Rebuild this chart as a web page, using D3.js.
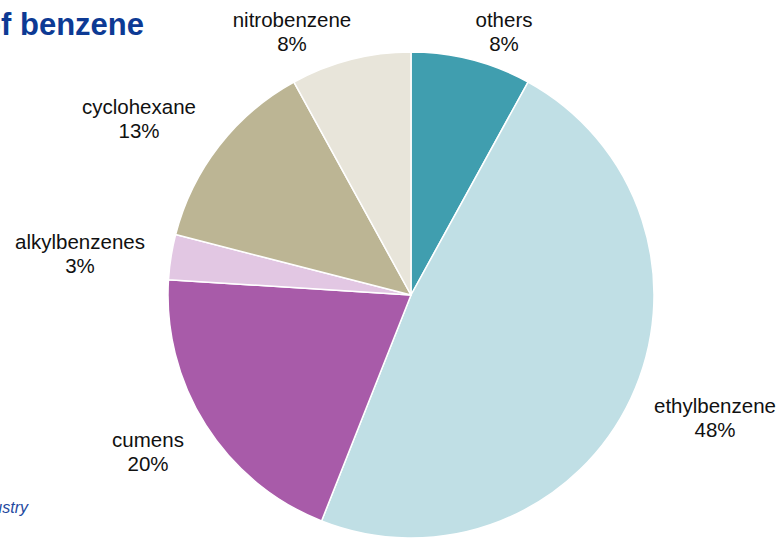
<!DOCTYPE html>
<html>
<head>
<meta charset="utf-8">
<script src="https://cdn.jsdelivr.net/npm/d3@7"></script>
<style>
  html, body { margin: 0; padding: 0; background: #fff; }
  svg { display: block; font-family: "Liberation Sans", Arial, sans-serif; }
</style>
</head>
<body>
<svg id="chart" width="779" height="538"></svg>
<script>
// Uses of benzene, share of consumption (%), clockwise from 12 o'clock
const categories = ["others", "ethylbenzene", "cumens", "alkylbenzenes", "cyclohexane", "nitrobenzene"];
const shares = [8, 48, 20, 3, 13, 8];
const colors = ["#409eaf", "#c0dfe5", "#a85ba9", "#e2c7e3", "#bcb594", "#e8e5da"];
// label anchor (centre of the first text line) for each slice
const labelX = [504, 715, 148, 80, 139, 292];
const labelY = [27, 413, 447, 249, 114, 27];

const svg = d3.select("#chart");
const cx = 411, cy = 295, r = 243;

const data = categories.map((c, i) => ({ name: c, value: shares[i], color: colors[i], lx: labelX[i], ly: labelY[i] }));

const pie = d3.pie().value(d => d.value).sort(null);
const arc = d3.arc().innerRadius(0).outerRadius(r);

const g = svg.append("g").attr("transform", `translate(${cx},${cy})`);
g.selectAll("path")
  .data(pie(data))
  .join("path")
  .attr("d", arc)
  .attr("fill", d => d.data.color)
  .attr("stroke", "#ffffff")
  .attr("stroke-width", 1.5)
  .attr("stroke-linejoin", "round");

// slice labels: name on the first line, percentage below
const labels = svg.selectAll("text.lbl")
  .data(data)
  .join("text")
  .attr("class", "lbl")
  .attr("text-anchor", "middle")
  .attr("font-size", "20.5px")
  .attr("fill", "#111");
labels.append("tspan").attr("x", d => d.lx).attr("y", d => d.ly).text(d => d.name);
labels.append("tspan").attr("x", d => d.lx).attr("y", d => d.ly + 23.5).text(d => d.value + "%");

// title (runs off the left edge)
svg.append("text")
  .attr("x", 144).attr("y", 35)
  .attr("text-anchor", "end")
  .attr("font-size", "31px")
  .attr("font-weight", "bold")
  .attr("fill", "#0d3a94")
  .text("Uses of benzene");

// source note
svg.append("text")
  .attr("x", 28).attr("y", 513)
  .attr("text-anchor", "end")
  .attr("font-size", "16px")
  .attr("font-style", "italic")
  .attr("fill", "#1f4aa0")
  .text("Source: chemical industry");
</script>
</body>
</html>
